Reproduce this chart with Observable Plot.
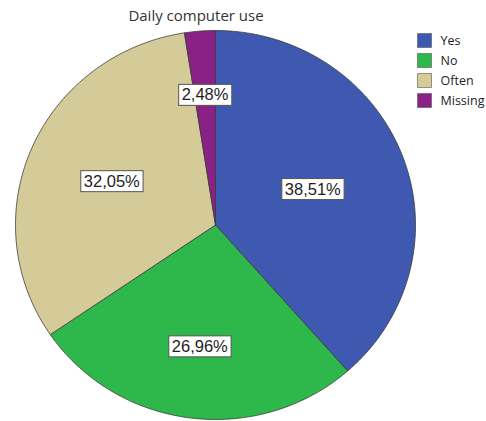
<!DOCTYPE html>
<html>
<head>
<meta charset="utf-8">
<script src="https://cdn.jsdelivr.net/npm/d3@7"></script>
<script src="https://cdn.jsdelivr.net/npm/@observablehq/plot@0.6"></script>
<style>
  html, body { margin: 0; padding: 0; background: #fff; }
  #wrap { position: relative; width: 486px; height: 421px; overflow: hidden; }
  #wrap > * { position: absolute; }
  #title { left: 0; top: 5px; width: 392px; text-align: center; font-family: "Open Sans", sans-serif; font-size: 15px; color: #333; }
  #legend { left: 410px; top: 26px; }
  #pie { left: 0; top: 0; }
</style>
</head>
<body>
<div id="wrap">
  <div id="pie"></div>
  <div id="title">Daily computer use</div>
  <div id="legend"></div>
</div>
<script>
// ---- data ----
const categories = ["Yes", "No", "Often", "Missing"];
const percents = [38.51, 26.96, 32.05, 2.48];
const colors = ["#3f59b1", "#2eb84b", "#d4cb98", "#8a2286"];

// ---- layout (label distance from centre, fraction of radius) ----
const labelRadius = [0.52, 0.63, 0.565, 0.67];

// build slice outlines (angles clockwise from 12 o'clock)
const total = d3.sum(percents);
const points = [];
const labels = [];
let start = 0;
categories.forEach((cat, i) => {
  const a0 = start / total * 2 * Math.PI;
  const a1 = (start + percents[i]) / total * 2 * Math.PI;
  points.push({cat, x: 0, y: 0});
  const n = Math.max(2, Math.ceil((a1 - a0) / (Math.PI / 360)));
  for (let k = 0; k <= n; k++) {
    const a = a0 + (a1 - a0) * k / n;
    points.push({cat, x: Math.sin(a), y: Math.cos(a)});
  }
  points.push({cat, x: 0, y: 0});
  const am = (a0 + a1) / 2;
  labels.push({
    cat,
    x: Math.sin(am) * labelRadius[i],
    y: Math.cos(am) * labelRadius[i],
    text: percents[i].toFixed(2).replace(".", ",") + "%"
  });
  start += percents[i];
});

const pie = Plot.plot({
  width: 486,
  height: 421,
  margin: 0,
  style: {fontFamily: "'Liberation Sans', Arial, sans-serif", background: "transparent"},
  x: {domain: [-1, 1], range: [15, 415], axis: null},
  y: {domain: [-1, 1], range: [419, 30], axis: null},
  color: {domain: categories, range: colors},
  marks: [
    Plot.line(points, {x: "x", y: "y", z: "cat", fill: "cat", stroke: "#3a3a3a", strokeWidth: 0.8, strokeLinejoin: "round"}),
    Plot.text(labels, {x: "x", y: "y", text: "text", fontSize: 16.5, fill: "#1e1e1e", fontWeight: 500})
  ]
});
document.getElementById("pie").appendChild(pie);

// white boxes behind percentage labels
Array.from(pie.querySelectorAll("text"))
  .filter(t => t.textContent.includes("%"))
  .forEach(t => {
    const b = t.getBBox();
    const padX = 3, padY = 2;
    const r = document.createElementNS("http://www.w3.org/2000/svg", "rect");
    r.setAttribute("x", b.x - padX);
    r.setAttribute("y", b.y - padY + 1);
    r.setAttribute("width", b.width + 2 * padX);
    r.setAttribute("height", b.height + 2 * padY - 1);
    r.setAttribute("fill", "#fff");
    r.setAttribute("stroke", "#555");
    r.setAttribute("stroke-width", "1");
    if (t.getAttribute("transform")) r.setAttribute("transform", t.getAttribute("transform"));
    t.parentNode.insertBefore(r, t);
  });

const legend = Plot.plot({
  width: 76,
  height: 88,
  margin: 0,
  style: {fontFamily: "'Open Sans', sans-serif", background: "transparent"},
  x: {domain: [0, 1], range: [14, 28], axis: null},
  y: {type: "point", domain: categories, range: [14, 74], padding: 0, axis: null},
  color: {domain: categories, range: colors},
  marks: [
    Plot.dot(categories, {x: () => 0, y: d => d, fill: d => d, symbol: "square", r: 7.9, stroke: "#555", strokeWidth: 0.6}),
    Plot.text(categories, {x: () => 1, y: d => d, text: d => d, textAnchor: "start", dx: 2, fontSize: 12.5, fill: "#222"})
  ]
});
document.getElementById("legend").appendChild(legend);
</script>
</body>
</html>
